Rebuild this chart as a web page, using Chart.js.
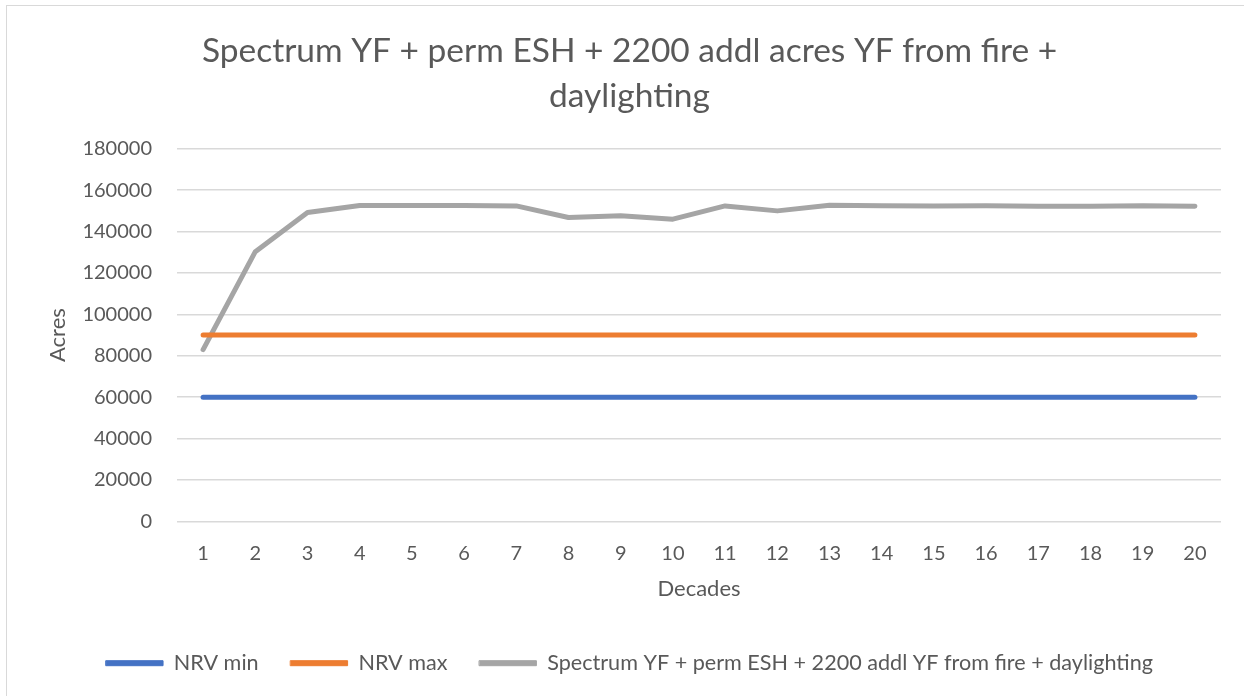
<!DOCTYPE html>
<html>
<head>
<meta charset="utf-8">
<script src="https://cdn.jsdelivr.net/npm/chart.js@4"></script>
<style>
  html, body { margin:0; padding:0; background:#fff; }
  body { width:1244px; height:696px; position:relative; overflow:hidden; }
  #frame { position:absolute; left:6px; top:5px; width:1300px; height:760px; border:1px solid #d9d9d9; }
  #wrap { position:absolute; left:0; top:0; width:1244px; height:696px; }
</style>
</head>
<body>
<div id="frame"></div>
<div id="wrap"><canvas id="chart"></canvas></div>
<script>
// Data
const decades = ['1','2','3','4','5','6','7','8','9','10','11','12','13','14','15','16','17','18','19','20'];
const nrvMin = [60000,60000,60000,60000,60000,60000,60000,60000,60000,60000,60000,60000,60000,60000,60000,60000,60000,60000,60000,60000];
const nrvMax = [90000,90000,90000,90000,90000,90000,90000,90000,90000,90000,90000,90000,90000,90000,90000,90000,90000,90000,90000,90000];
const spectrum = [83000,130300,149200,152600,152600,152600,152400,146800,147600,146000,152400,150000,152700,152500,152300,152500,152200,152200,152500,152200];
const yTicks = [0,20000,40000,60000,80000,100000,120000,140000,160000,180000];

const titleLines = ['Spectrum YF + perm ESH + 2200 addl acres YF from fire +', 'daylighting'];
const FONT = 'Lato, "Open Sans", sans-serif';
const TXT = '#595959';

const ctx = document.getElementById('chart').getContext('2d');
new Chart(ctx, {
  type: 'line',
  data: {
    labels: decades,
    datasets: [
      { label:'NRV min', data:nrvMin, borderColor:'#4472C4', backgroundColor:'#4472C4' },
      { label:'NRV max', data:nrvMax, borderColor:'#ED7D31', backgroundColor:'#ED7D31' },
      { label:'Spectrum YF + perm ESH + 2200 addl YF from fire + daylighting', data:spectrum, borderColor:'#A5A5A5', backgroundColor:'#A5A5A5' }
    ]
  },
  options: {
    responsive:true,
    maintainAspectRatio:false,
    animation:false,
    layout:{ padding:{ left:38, right:23, top:0, bottom:12 } },
    elements:{
      line:{ borderWidth:5, tension:0, borderCapStyle:'round', borderJoinStyle:'round' },
      point:{ radius:0, hoverRadius:0 }
    },
    plugins:{
      title:{
        display:true,
        text:titleLines,
        color:TXT,
        font:{ family:FONT, size:33.5, weight:'normal', lineHeight:1.34 },
        padding:{ top:29, bottom:30 }
      },
      legend:{
        position:'bottom',
        labels:{
          color:TXT,
          font:{ family:FONT, size:21.6 },
          boxWidth:57,
          boxHeight:5,
          padding:32,
          generateLabels(chart){
            const items = Chart.defaults.plugins.legend.labels.generateLabels(chart);
            items.forEach(it => { it.lineWidth = 1; });
            return items;
          }
        }
      },
      tooltip:{ enabled:false }
    },
    scales:{
      x:{
        offset:true,
        afterFit(scale){ scale.height = 99; },
        grid:{ display:false },
        border:{ display:false },
        ticks:{ color:TXT, font:{ family:FONT, size:20 }, padding:12, maxRotation:0 },
        title:{ display:true, text:'Decades', color:TXT, font:{ family:FONT, size:22 }, padding:{ top:0, bottom:18 } }
      },
      y:{
        min:0, max:180000,
        afterBuildTicks(scale){ scale.ticks = yTicks.map(v => ({ value:v })); },
        afterFit(scale){ scale.width = 139; },
        grid:{ color:'#d9d9d9', lineWidth:1.5, drawTicks:false },
        border:{ display:false },
        ticks:{ color:TXT, font:{ family:FONT, size:20 }, padding:25, callback:(v) => String(v) },
        title:{ display:true, text:'Acres', color:TXT, font:{ family:FONT, size:22 }, padding:{ top:7, bottom:0 } }
      }
    }
  }
});
</script>
</body>
</html>
